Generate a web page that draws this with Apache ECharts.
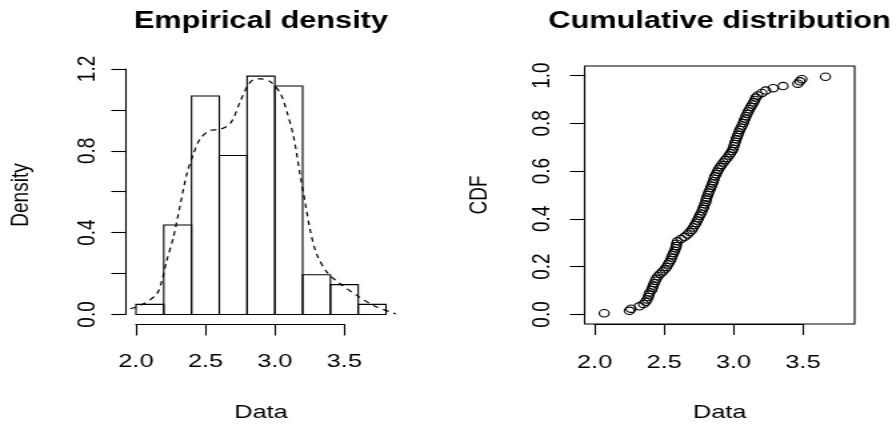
<!DOCTYPE html>
<html><head><meta charset="utf-8">
<script src="https://cdn.jsdelivr.net/npm/echarts@6/dist/echarts.min.js"></script>
<style>
html,body{margin:0;padding:0;background:#fff;overflow:hidden;}
#wrap{width:896px;height:425px;overflow:hidden;background:#fff;}
#chart{width:672px;height:425px;transform:scaleX(1.3333333);transform-origin:0 0;}
</style></head><body><div id="wrap"><div id="chart"></div></div>
<script>
// ---- data ----
const binEdges = [2.0, 2.2, 2.4, 2.6, 2.8, 3.0, 3.2, 3.4, 3.6, 3.8];
const densities = [0.049, 0.437, 1.068, 0.777, 1.165, 1.117, 0.194, 0.146, 0.049];

const densX = [1.96, 2.055, 2.15, 2.187, 2.22, 2.27, 2.32, 2.367, 2.415, 2.463, 2.535, 2.607, 2.68, 2.75, 2.8,
               2.847, 2.895, 2.967, 3.04, 3.087, 3.135, 3.18, 3.22, 3.255, 3.30, 3.375, 3.47, 3.59, 3.71, 3.87];
const densY = [0.028, 0.052, 0.10, 0.167, 0.26, 0.38, 0.54, 0.69, 0.787, 0.86, 0.90, 0.905, 0.934, 1.04, 1.113,
               1.149, 1.152, 1.138, 1.08, 0.99, 0.868, 0.69, 0.54, 0.41, 0.297, 0.207, 0.15, 0.093, 0.044, 0.003];

const cdfX = [2.069, 2.250, 2.262, 2.322, 2.352, 2.368, 2.378, 2.386, 2.392, 2.397,
              2.411, 2.417, 2.422, 2.429, 2.437, 2.445, 2.456, 2.473, 2.490, 2.505,
              2.518, 2.528, 2.538, 2.548, 2.554, 2.561, 2.568, 2.576, 2.583, 2.588,
              2.590, 2.596, 2.622, 2.648, 2.668, 2.685, 2.700, 2.710, 2.721, 2.731,
              2.739, 2.748, 2.756, 2.764, 2.773, 2.780, 2.786, 2.792, 2.801, 2.803,
              2.808, 2.815, 2.821, 2.828, 2.835, 2.842, 2.849, 2.855, 2.860, 2.866,
              2.875, 2.883, 2.892, 2.903, 2.914, 2.927, 2.940, 2.954, 2.967, 2.978,
              2.989, 2.997, 3.002, 3.008, 3.013, 3.019, 3.025, 3.032, 3.038, 3.045,
              3.053, 3.062, 3.070, 3.076, 3.083, 3.090, 3.098, 3.106, 3.115, 3.125,
              3.135, 3.145, 3.153, 3.161, 3.174, 3.204, 3.232, 3.285, 3.357, 3.463,
              3.478, 3.492, 3.662];
const cdfY = [0.005, 0.015, 0.024, 0.034, 0.044, 0.053, 0.063, 0.073, 0.083, 0.092,
              0.102, 0.112, 0.121, 0.131, 0.141, 0.150, 0.160, 0.170, 0.180, 0.189,
              0.199, 0.209, 0.218, 0.228, 0.238, 0.248, 0.257, 0.267, 0.277, 0.286,
              0.296, 0.306, 0.316, 0.325, 0.335, 0.345, 0.354, 0.364, 0.374, 0.383,
              0.393, 0.403, 0.413, 0.422, 0.432, 0.442, 0.451, 0.461, 0.471, 0.481,
              0.490, 0.500, 0.510, 0.519, 0.529, 0.539, 0.549, 0.558, 0.568, 0.578,
              0.587, 0.597, 0.607, 0.617, 0.626, 0.636, 0.646, 0.655, 0.665, 0.675,
              0.684, 0.694, 0.704, 0.714, 0.723, 0.733, 0.743, 0.752, 0.762, 0.772,
              0.782, 0.791, 0.801, 0.811, 0.820, 0.830, 0.840, 0.850, 0.859, 0.869,
              0.879, 0.888, 0.898, 0.908, 0.917, 0.927, 0.937, 0.947, 0.956, 0.966,
              0.976, 0.985, 0.995];

const xTicks = [2.0, 2.5, 3.0, 3.5];
const yTicksLeft = [0.0, 0.2, 0.4, 0.6, 0.8, 1.0, 1.2];
const yLabelsLeft = ['0.0', '0.4', '0.8', '1.2'];
const yTicksRight = [0.0, 0.2, 0.4, 0.6, 0.8, 1.0];

const titles = ['Empirical density', 'Cumulative distribution'];
const xName = 'Data';
const yNames = ['Density', 'CDF'];

// ---- layout (drawn at 672 px wide, stretched to 896) ----
const FONT = '"Liberation Sans", Arial, Helvetica, sans-serif';
const X_RANGE = [1.928, 3.872];
const Y_LEFT = [-0.0467, 1.2145];
const Y_RIGHT = [-0.04, 1.04];
const GL = {left: 94.5, top: 66, width: 202.5, height: 258};
const GR = {left: 438.5, top: 66, width: 202.5, height: 258};

function axisRect(g, xr, yr, x0, x1, y0, y1) {
  const px = v => g.left + (v - xr[0]) / (xr[1] - xr[0]) * g.width;
  const py = v => g.top + g.height - (v - yr[0]) / (yr[1] - yr[0]) * g.height;
  return {
    rect: {left: px(x0), width: px(x1) - px(x0), top: py(y1), height: py(y0) - py(y1)},
    xOff: (g.top + g.height) - py(y0),
    yOff: px(x0) - g.left
  };
}
const AL = axisRect(GL, X_RANGE, Y_LEFT, xTicks[0], xTicks[xTicks.length - 1], yTicksLeft[0], yTicksLeft[yTicksLeft.length - 1]);
const AR = axisRect(GR, X_RANGE, Y_RIGHT, xTicks[0], xTicks[xTicks.length - 1], yTicksRight[0], yTicksRight[yTicksRight.length - 1]);

const black = '#000';
const lbl = {fontSize: 19, color: black, fontFamily: FONT};
function gridOf(r, extra) {
  return Object.assign({left: r.left, top: r.top, width: r.width, height: r.height,
    containLabel: false, outerBoundsMode: 'none', show: false}, extra || {});
}
function nameAxis(gi, rng, name, gap) {
  return {gridIndex: gi, type: 'value', min: rng[0], max: rng[1], name: name,
    nameLocation: 'middle', nameGap: gap, nameTextStyle: lbl,
    axisLine: {show: false}, axisTick: {show: false}, axisLabel: {show: false}, splitLine: {show: false}};
}
function tickAxis(gi, ticks, offset, labelOpt) {
  return {gridIndex: gi, type: 'value', min: ticks[0], max: ticks[ticks.length - 1],
    interval: ticks[1] - ticks[0], offset: offset,
    axisLine: {show: true, onZero: false, lineStyle: {color: black, width: 1.1}},
    axisTick: {show: true, length: 11, lineStyle: {color: black, width: 1.1}},
    axisLabel: Object.assign({show: true, showMinLabel: true, showMaxLabel: true}, lbl, labelOpt),
    splitLine: {show: false}};
}

const option = {
  backgroundColor: '#fff',
  animation: false,
  title: [
    {text: titles[0], left: GL.left + GL.width / 2, top: 10, textAlign: 'center', padding: 0,
     textStyle: {fontSize: 23, fontWeight: 'bold', color: black, fontFamily: FONT}},
    {text: titles[1], left: GR.left + GR.width / 2, top: 10, textAlign: 'center', padding: 0,
     textStyle: {fontSize: 23, fontWeight: 'bold', color: black, fontFamily: FONT}}
  ],
  grid: [
    gridOf(GL),
    gridOf(AL.rect),
    gridOf(GR, {show: true, borderColor: black, borderWidth: 1.1, backgroundColor: 'transparent'}),
    gridOf(AR.rect)
  ],
  xAxis: [
    nameAxis(0, X_RANGE, xName, 79),
    tickAxis(1, xTicks, AL.xOff + 0.5, {margin: 28, formatter: v => v.toFixed(1)}),
    nameAxis(2, X_RANGE, xName, 79),
    tickAxis(3, xTicks, AR.xOff, {margin: 29, formatter: v => v.toFixed(1)})
  ],
  yAxis: [
    nameAxis(0, Y_LEFT, yNames[0], 69),
    tickAxis(1, yTicksLeft, AL.yOff, {margin: 19, rotate: 90,
      formatter: v => (yLabelsLeft.indexOf(v.toFixed(1)) >= 0 ? v.toFixed(1) : '')}),
    nameAxis(2, Y_RIGHT, yNames[1], 69),
    tickAxis(3, yTicksRight, AR.yOff, {margin: 22, rotate: 90, formatter: v => v.toFixed(1)})
  ],
  series: [
    {
      type: 'custom', xAxisIndex: 0, yAxisIndex: 0,
      data: densities.map((d, i) => [binEdges[i], binEdges[i + 1], d]),
      encode: {x: [0, 1], y: 2},
      renderItem: function (params, api) {
        const p0 = api.coord([api.value(0), api.value(2)]);
        const p1 = api.coord([api.value(1), 0]);
        return {type: 'rect', shape: {x: p0[0], y: p0[1], width: p1[0] - p0[0], height: p1[1] - p0[1]},
          style: {fill: 'none', stroke: black, lineWidth: 1.1}};
      },
      silent: true
    },
    {
      type: 'line', xAxisIndex: 0, yAxisIndex: 0,
      data: densX.map((x, i) => [x, densY[i]]),
      showSymbol: false, smooth: 0.3,
      lineStyle: {color: black, width: 1.2, type: [4.5, 4]},
      silent: true
    },
    {
      type: 'scatter', xAxisIndex: 2, yAxisIndex: 2,
      data: cdfX.map((x, i) => [x, cdfY[i]]),
      symbol: 'circle', symbolSize: 7.4,
      itemStyle: {color: 'transparent', borderColor: black, borderWidth: 1.1, opacity: 1},
      silent: true
    }
  ]
};
const chart = echarts.init(document.getElementById('chart'), null, {renderer: 'canvas'});
chart.setOption(option);
</script></body></html>
